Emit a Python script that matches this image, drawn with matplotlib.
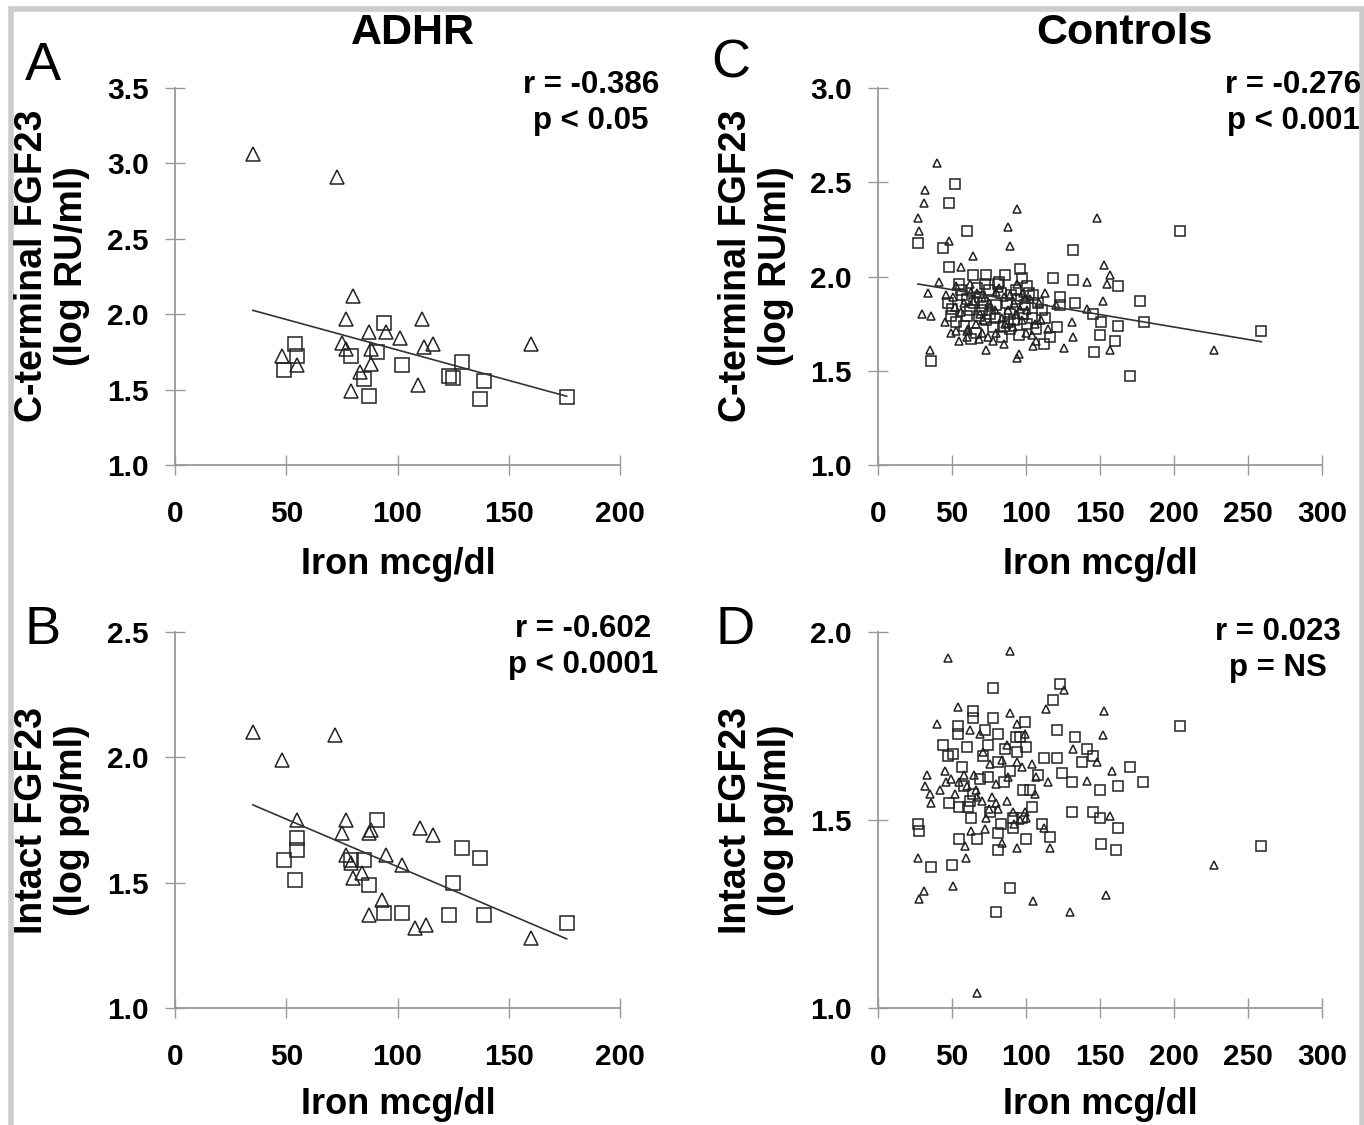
import numpy as np
import matplotlib
matplotlib.use("Agg")
import matplotlib.pyplot as plt
from matplotlib.patches import Rectangle

plt.rcParams['font.family'] = ['Liberation Sans', 'DejaVu Sans']

# ---- panel A : ADHR, C-terminal FGF23 ----
a_tri_x = [35, 73, 80, 77, 111, 87, 95, 101, 75, 77, 88, 112, 116, 160, 48, 55, 88, 83, 109, 79]
a_tri_y = [3.06, 2.91, 2.12, 1.97, 1.97, 1.88, 1.88, 1.84, 1.81, 1.77, 1.77, 1.78, 1.80, 1.80,
           1.72, 1.66, 1.67, 1.62, 1.53, 1.49]
a_sq_x = [94, 54, 55, 49, 79, 91, 102, 85, 87, 129, 123, 125, 139, 137, 176]
a_sq_y = [1.94, 1.80, 1.72, 1.63, 1.72, 1.75, 1.66, 1.57, 1.46, 1.68, 1.59, 1.58, 1.56, 1.44, 1.45]
a_fit = (-0.00404, 2.167)

# ---- panel B : ADHR, intact FGF23 ----
b_tri_x = [35, 72, 48, 55, 77, 75, 87, 88, 110, 116, 95, 77, 79, 102, 84, 80, 93, 87, 108, 113, 160]
b_tri_y = [2.10, 2.09, 1.99, 1.75, 1.75, 1.70, 1.70, 1.71, 1.72, 1.69, 1.61, 1.61, 1.58, 1.57,
           1.54, 1.52, 1.43, 1.37, 1.32, 1.33, 1.28]
b_sq_x = [91, 55, 55, 49, 54, 79, 85, 87, 94, 102, 129, 137, 125, 123, 139, 176]
b_sq_y = [1.75, 1.68, 1.63, 1.59, 1.51, 1.59, 1.59, 1.49, 1.38, 1.38, 1.64, 1.60, 1.50, 1.37, 1.37, 1.34]
b_fit = (-0.00379, 1.943)

# ---- panel C : controls, C-terminal FGF23 ----
c_tri_x = [40, 32, 31, 27, 28, 94, 148, 88, 89, 48, 64, 56, 153, 157, 155, 141, 41, 34, 46, 30,
           36, 113, 152, 131, 132, 126, 157, 95, 94, 35, 55, 60, 68, 73, 85, 105, 227,
           53, 62, 80, 94, 98, 103, 69, 76, 53, 60, 80, 91, 107, 110, 51, 85, 72, 120, 141,
           58, 66, 88, 97, 45, 78, 100, 115, 63, 92, 84, 70, 101, 49,
           56, 64, 71, 79, 86, 93, 99, 106, 61, 75, 82, 96, 104, 67, 89, 74, 52, 109]
c_tri_y = [2.60, 2.46, 2.39, 2.31, 2.24, 2.36, 2.31, 2.26, 2.16, 2.19, 2.11, 2.05, 2.06, 2.01,
           1.96, 1.97, 1.97, 1.91, 1.90, 1.80, 1.79, 1.91, 1.87, 1.76, 1.68, 1.62, 1.61, 1.59,
           1.57, 1.61, 1.66, 1.71, 1.67, 1.61, 1.64, 1.63, 1.61,
           1.95, 1.96, 1.92, 1.96, 1.91, 1.88, 1.80, 1.84, 1.71, 1.68, 1.70, 1.73, 1.66, 1.77,
           1.89, 1.89, 1.89, 1.85, 1.83,
           1.86, 1.75, 1.82, 1.77, 1.76, 1.66, 1.70, 1.72, 1.92, 1.86, 1.78, 1.70, 1.82, 1.70,
           1.81, 1.87, 1.77, 1.82, 1.75, 1.80, 1.88, 1.75, 1.72, 1.86, 1.94, 1.83, 1.69, 1.91,
           1.90, 1.68, 1.84, 1.86]
c_sq_x = [52, 48, 27, 44, 60, 132, 204, 48, 96, 73, 86, 64, 118, 132, 162, 177, 180, 259, 123,
          123, 133, 145, 151, 162, 121, 150, 160, 146, 170, 36, 116, 112, 50, 49, 55, 81, 101,
          99, 80, 62, 60, 69, 89, 101, 89, 78, 73, 107, 111,
          57, 67, 93, 105, 83, 75, 58, 95, 65, 87, 104, 70, 47, 113, 97, 84, 66,
          53, 60, 68, 76, 90, 98, 108, 72, 85, 94, 63, 79, 102, 56, 88, 71, 92, 82]
c_sq_y = [2.49, 2.39, 2.18, 2.15, 2.24, 2.14, 2.24, 2.05, 2.04, 2.01, 2.01, 2.01, 1.99, 1.98,
          1.95, 1.87, 1.76, 1.71, 1.89, 1.85, 1.86, 1.80, 1.76, 1.74, 1.73, 1.69, 1.66, 1.60,
          1.47, 1.55, 1.68, 1.64, 1.83, 1.79, 1.96, 1.96, 1.95, 1.85, 1.85, 1.82, 1.79, 1.89,
          1.80, 1.75, 1.72, 1.73, 1.77, 1.72, 1.82,
          1.90, 1.94, 1.93, 1.90, 1.91, 1.93, 1.74, 1.69, 1.86, 1.86, 1.78, 1.82, 1.86, 1.78,
          1.99, 1.68, 1.70,
          1.76, 1.88, 1.79, 1.80, 1.90, 1.80, 1.86, 1.96, 1.74, 1.88, 1.67, 1.78, 1.91, 1.93,
          1.76, 1.86, 1.77, 1.97]
c_fit = (-0.00132, 1.996)

# ---- panel D : controls, intact FGF23 ----
d_tri_x = [47.5, 89, 54, 40, 89, 94, 99, 113.5, 126, 153, 152, 131.5, 148, 158, 141, 115, 107,
           88, 80, 65, 33, 32, 35, 36, 46, 55, 60, 94, 77, 87, 91, 73, 100, 157, 72, 84, 94, 59,
           116, 27, 59.5, 51, 31, 28, 105, 154, 130, 227, 67,
           49, 62, 69, 76, 96, 112, 80, 42, 104, 67,
           58, 66, 71, 84, 92, 99, 52, 75, 87, 106, 45, 63, 81, 97, 70]
d_tri_y = [1.93, 1.95, 1.80, 1.755, 1.785, 1.755, 1.73, 1.795, 1.845, 1.79, 1.725, 1.69, 1.655,
           1.63, 1.605, 1.60, 1.615, 1.615, 1.595, 1.62, 1.62, 1.59, 1.57, 1.545, 1.60, 1.60,
           1.59, 1.655, 1.56, 1.55, 1.52, 1.505, 1.505, 1.51, 1.475, 1.44, 1.425, 1.43, 1.425,
           1.40, 1.40, 1.325, 1.31, 1.29, 1.285, 1.30, 1.255, 1.38, 1.04,
           1.61, 1.74, 1.73, 1.65, 1.50, 1.48, 1.545, 1.58, 1.65, 1.56,
           1.62, 1.58, 1.68, 1.66, 1.49, 1.52, 1.57, 1.53, 1.70, 1.57, 1.63, 1.47, 1.53, 1.64,
           1.55]
d_sq_x = [78, 123, 118, 64, 78, 99, 54, 64, 54, 81, 93, 121, 133, 204, 44, 60, 74, 86, 51, 71,
          81, 100, 112, 121, 141, 138, 145, 170, 124, 74, 131, 162, 179, 150, 98, 64, 48, 55,
          61, 104, 131, 145, 63, 91, 97, 150, 111, 162, 27, 28, 91, 81, 116, 55, 67, 100, 81,
          151, 161, 50, 36, 89, 80, 259,
          57, 69, 85, 94, 103, 47, 62, 76, 89, 108, 72, 83, 96, 58]
d_sq_y = [1.85, 1.863, 1.82, 1.79, 1.77, 1.76, 1.75, 1.77, 1.73, 1.73, 1.72, 1.74, 1.72, 1.75,
          1.70, 1.695, 1.70, 1.69, 1.675, 1.67, 1.655, 1.695, 1.665, 1.665, 1.69, 1.655, 1.67,
          1.64, 1.625, 1.615, 1.60, 1.59, 1.60, 1.58, 1.58, 1.57, 1.545, 1.535, 1.535, 1.535,
          1.52, 1.52, 1.505, 1.505, 1.505, 1.505, 1.49, 1.48, 1.49, 1.47, 1.48, 1.465, 1.455,
          1.45, 1.45, 1.45, 1.42, 1.435, 1.42, 1.38, 1.375, 1.32, 1.255, 1.43,
          1.64, 1.61, 1.60, 1.68, 1.58, 1.67, 1.55, 1.52, 1.63, 1.62, 1.74, 1.49, 1.72, 1.59]

W, H = 1364, 1125
fig = plt.figure(figsize=(W / 100, H / 100), dpi=100)

def px_rect(x0, y0, x1, y1):
    # pixel box (top-left origin) -> figure fraction
    return [x0 / W, 1 - y1 / H, (x1 - x0) / W, (y1 - y0) / H]

def ftext(x, y, s, **kw):
    fig.text(x / W, 1 - y / H, s, ha='center', va='center', **kw)

def panel(rect, tx, ty, sx, sy, xmax, yt, big, fit=None):
    ax = fig.add_axes(rect)
    ms_t, ms_s = (9.5, 10) if big else (6.2, 6.6)
    ax.plot(tx, ty, '^', ms=ms_t, mfc='none', mec='#222222', mew=1.1, clip_on=False)
    ax.plot(sx, sy, 's', ms=ms_s, mfc='none', mec='#222222', mew=1.1, clip_on=False)
    if fit is not None:
        allx = np.array(list(tx) + list(sx))
        xs = np.array([allx.min(), allx.max()])
        ax.plot(xs, fit[0] * xs + fit[1], color='#333333', lw=1.2)
    ax.set_xlim(0, xmax)
    ax.set_ylim(yt[0], yt[-1])
    ax.set_xticks(np.arange(0, xmax + 1, 50))
    ax.set_yticks(yt)
    ax.set_yticklabels(['%.1f' % v for v in yt])
    for s in ['top', 'right']:
        ax.spines[s].set_visible(False)
    for s in ['left', 'bottom']:
        ax.spines[s].set_color('#999999')
        ax.spines[s].set_linewidth(1.3)
    ax.tick_params(direction='inout', length=14, width=1, color='#999999',
                   labelsize=21.5)
    ax.tick_params(axis='x', pad=18)
    ax.tick_params(axis='y', pad=12)
    for lab in ax.get_xticklabels() + ax.get_yticklabels():
        lab.set_fontweight('bold')
    ax.set_facecolor('none')
    return ax

panel(px_rect(175, 88, 620, 465), a_tri_x, a_tri_y, a_sq_x, a_sq_y, 200,
      [1.0, 1.5, 2.0, 2.5, 3.0, 3.5], True, a_fit)
panel(px_rect(175, 632, 620, 1008), b_tri_x, b_tri_y, b_sq_x, b_sq_y, 200,
      [1.0, 1.5, 2.0, 2.5], True, b_fit)
panel(px_rect(878, 88, 1322, 465), c_tri_x, c_tri_y, c_sq_x, c_sq_y, 300,
      [1.0, 1.5, 2.0, 2.5, 3.0], False, c_fit)
panel(px_rect(878, 632, 1322, 1008), d_tri_x, d_tri_y, d_sq_x, d_sq_y, 300,
      [1.0, 1.5, 2.0], False)

# titles and panel letters
ftext(413, 33, 'ADHR', fontsize=31, fontweight='bold')
ftext(1124, 33, 'Controls', fontsize=31, fontweight='bold')
for x, y, s in [(43, 66, 'A'), (43, 630, 'B'), (731, 64, 'C'), (735, 630, 'D')]:
    ftext(x, y, s, fontsize=39)

# axis labels
for x, y in [(398, 564), (1100, 564), (398, 1105), (1100, 1105)]:
    ftext(x, y, 'Iron mcg/dl', fontsize=26, fontweight='bold')
ftext(52, 266, 'C-terminal FGF23\n(log RU/ml)', fontsize=27, fontweight='bold',
      rotation=90, multialignment='center', linespacing=1.15)
ftext(756, 266, 'C-terminal FGF23\n(log RU/ml)', fontsize=27, fontweight='bold',
      rotation=90, multialignment='center', linespacing=1.15)
ftext(52, 820, 'Intact FGF23\n(log pg/ml)', fontsize=27, fontweight='bold',
      rotation=90, multialignment='center', linespacing=1.15)
ftext(756, 820, 'Intact FGF23\n(log pg/ml)', fontsize=27, fontweight='bold',
      rotation=90, multialignment='center', linespacing=1.15)

# correlation notes
notes = [(591, 103, 'r = -0.386\np < 0.05'), (1293, 103, 'r = -0.276\np < 0.001'),
         (583, 647, 'r = -0.602\np < 0.0001'), (1278, 650, 'r = 0.023\np = NS')]
for x, y, s in notes:
    ftext(x, y, s, fontsize=22.5, fontweight='bold', multialignment='center',
          linespacing=1.3)

# light grey frame
fig.add_artist(Rectangle((11 / W, -0.05), (1362 - 11) / W, 1.05 - 9 / H,
                         transform=fig.transFigure, fill=False, lw=4, ec='#cccccc'))

fig.savefig('out.png', dpi=100)
